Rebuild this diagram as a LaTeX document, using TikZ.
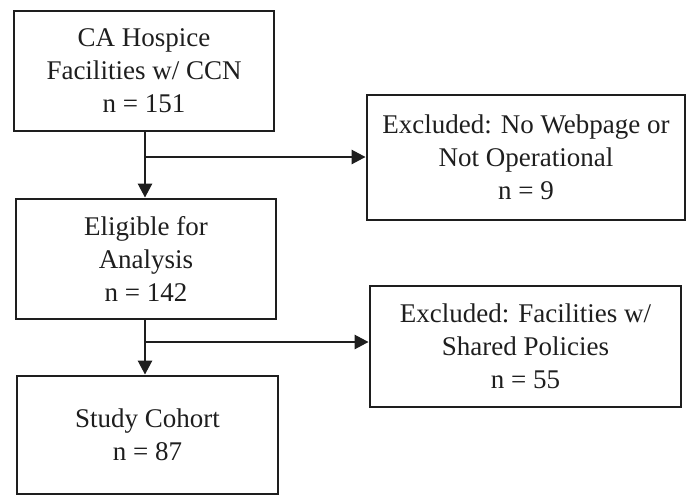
\documentclass[tikz,border=0pt]{standalone}
\usepackage{fontspec}
\setmainfont{Liberation Serif}
\usetikzlibrary{arrows.meta}
\definecolor{ink}{HTML}{1E1E1E}
\begin{document}
\begin{tikzpicture}[x=1pt,y=-1pt,
  box/.style={draw=ink,line width=2.8pt,rectangle,align=center,inner sep=0pt,
    font=\fontsize{27}{33}\selectfont,text=ink},
  arr/.style={draw=ink,line width=2.6pt,-{Triangle[length=14pt,width=14pt]}}]
\useasboundingbox (0,0) rectangle (689,496);
\node[box,minimum width=260pt,minimum height=120pt] (b1) at (144,71) {CA Hospice\\Facilities w/ CCN\\n = 151};
\node[box,minimum width=260pt,minimum height=120pt] (b2) at (146,259) {Eligible for\\Analysis\\n = 142};
\node[box,minimum width=261pt,minimum height=118pt] (b3) at (147.5,435) {Study Cohort\\n = 87};
\node[box,minimum width=318pt,minimum height=125pt] (e1) at (526,157.5) {Excluded: No Webpage or\\Not Operational\\n = 9};
\node[box,minimum width=311pt,minimum height=121pt] (e2) at (525.5,346.5) {Excluded: Facilities w/\\Shared Policies\\n = 55};
\coordinate (j1) at (145,157);
\coordinate (j2) at (145,342);
\draw[arr] (b1.south -| j1) -- (b2.north -| j1);
\draw[arr] (j1) -- (j1 -| e1.west);
\draw[arr] (b2.south -| j2) -- (b3.north -| j2);
\draw[arr] (j2) -- (j2 -| e2.west);
\end{tikzpicture}
\end{document}
